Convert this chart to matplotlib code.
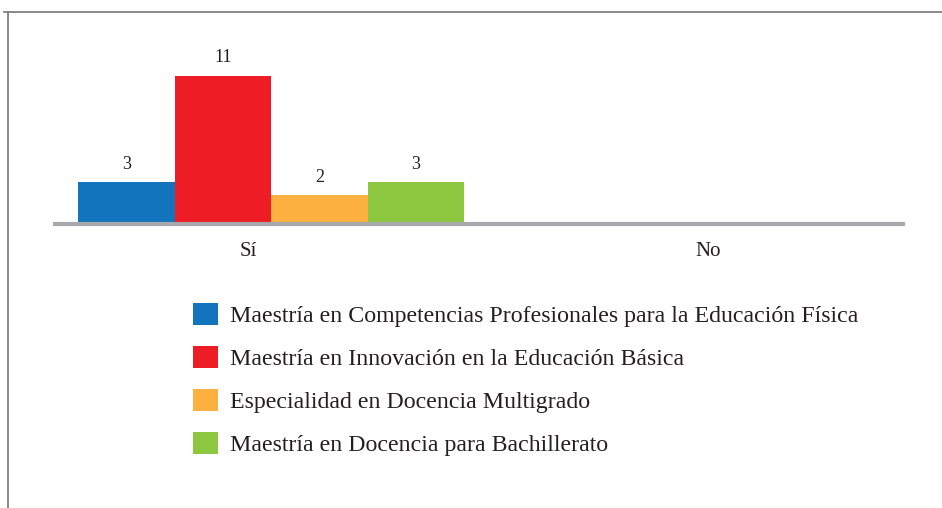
import matplotlib.pyplot as plt
from matplotlib.patches import Patch
from matplotlib.lines import Line2D

plt.rcParams['font.family'] = ['Liberation Serif', 'DejaVu Serif']

categories = ['Sí', 'No']
programas = [
    'Maestría en Competencias Profesionales para la Educación Física',
    'Maestría en Innovación en la Educación Básica',
    'Especialidad en Docencia Multigrado',
    'Maestría en Docencia para Bachillerato',
]
valores_si = [3, 11, 2, 3]
valores_no = [0, 0, 0, 0]
colores = ['#1174bc', '#ee1c25', '#fbb040', '#8dc63f']

fig = plt.figure(figsize=(9.42, 5.08), dpi=100)
W, H = 942, 508

# marco de la figura (arriba e izquierda)
fig.add_artist(Line2D([4 / W, 1], [1 - 12 / H, 1 - 12 / H], color='#808080', lw=1.3))
fig.add_artist(Line2D([8 / W, 8 / W], [0, 1 - 12 / H], color='#808080', lw=1.3))

ax = fig.add_axes([55 / W, 1 - 224 / H, (903 - 55) / W, (224 - 12) / H])

bar_w = 0.21
group_shift = 0.05
for i, (prog, col) in enumerate(zip(programas, colores)):
    off = group_shift + (i - 1.5) * bar_w
    vals = [valores_si[i], valores_no[i]]
    for j, v in enumerate(vals):
        if v == 0:
            continue
        ax.bar(j + off, v, width=bar_w, color=col, linewidth=0)
        ax.text(j + off, v + 0.7, str(v), ha='center', va='bottom', fontsize=13, color='#231f20')

ax.set_xlim(-0.42, 1.424)
ax.set_ylim(-0.15, 15.8)
ax.set_xticks([0, 1])
ax.set_xticklabels(categories, fontsize=15, color='#231f20')
ax.tick_params(axis='x', length=0, pad=13)
ax.set_yticks([])
for s in ['top', 'left', 'right']:
    ax.spines[s].set_visible(False)
ax.spines['bottom'].set_color('#a7a9ac')
ax.spines['bottom'].set_linewidth(3)

handles = [Patch(facecolor=c, edgecolor='none') for c in colores]
fig.legend(handles, programas, loc='upper left', bbox_to_anchor=(193 / W, 1 - 303 / H),
           frameon=False, fontsize=17.2, handlelength=1.05, handleheight=1.05,
           handletextpad=0.5, labelspacing=0.78, borderaxespad=0, borderpad=0,
           labelcolor='#231f20')

fig.savefig('out.png', dpi=100)
